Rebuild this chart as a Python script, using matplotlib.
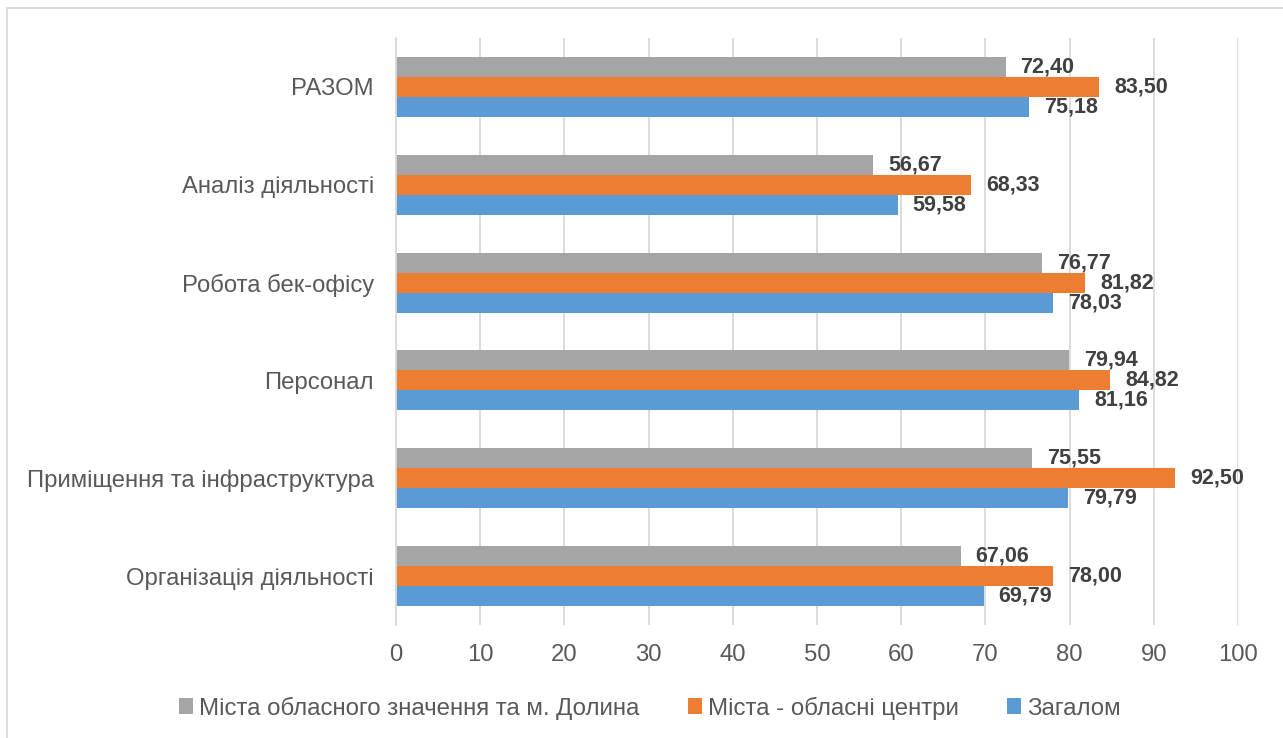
import matplotlib.pyplot as plt
import numpy as np
from matplotlib.patches import Rectangle

categories = ['Організація діяльності', 'Приміщення та інфраструктура', 'Персонал',
              'Робота бек-офісу', 'Аналіз діяльності', 'РАЗОМ']
series_names = ['Міста обласного значення та м. Долина', 'Міста - обласні центри', 'Загалом']
grey_vals = [67.06, 75.55, 79.94, 76.77, 56.67, 72.40]
orange_vals = [78.00, 92.50, 84.82, 81.82, 68.33, 83.50]
blue_vals = [69.79, 79.79, 81.16, 78.03, 59.58, 75.18]
x_ticks = list(range(0, 101, 10))

plt.rcParams['font.family'] = ['Liberation Sans', 'DejaVu Sans']

colors = ['#A5A5A5', '#ED7D31', '#5B9BD5']
fig = plt.figure(figsize=(12.83, 7.38), dpi=100)
ax = fig.add_axes([396 / 1283, 1 - 625 / 738, (1238 - 396) / 1283, (625 - 38) / 738])

y = np.arange(len(categories))
h = 0.204
offsets = [h, 0, -h]
for vals, off, col, name in zip([grey_vals, orange_vals, blue_vals], offsets, colors, series_names):
    bars = ax.barh(y + off, vals, height=h, color=col, label=name, zorder=2)
    for b, v in zip(bars, vals):
        ax.annotate(f'{v:.2f}'.replace('.', ','), (v, b.get_y() + b.get_height() / 2),
                    xytext=(15, 0), textcoords='offset pixels',
                    ha='left', va='center', fontsize=15.5, fontweight='bold', color='#404040')

ax.set_xlim(0, 100)
ax.set_ylim(-0.5, len(categories) - 0.5)
ax.set_xticks(x_ticks)
ax.set_yticks(y)
ax.set_yticklabels(categories)
ax.tick_params(axis='both', length=0, labelsize=17.2, labelcolor='#595959')
ax.tick_params(axis='x', pad=14)
ax.tick_params(axis='y', pad=16)
ax.grid(axis='x', color='#D9D9D9', linewidth=1.3, zorder=0)
for s in ['top', 'right', 'bottom']:
    ax.spines[s].set_visible(False)
ax.spines['left'].set_color('#D9D9D9')
ax.spines['left'].set_linewidth(1.3)

leg = fig.legend(loc='center', bbox_to_anchor=(650 / 1283, 1 - 708 / 738), ncol=3, frameon=False,
                 fontsize=17.3, handlelength=0.6, handleheight=0.6, handletextpad=0.25,
                 columnspacing=2.0)
for t in leg.get_texts():
    t.set_color('#595959')

fig.patches.append(Rectangle((7 / 1283, -0.01), 1.02, 1 - 8 / 738 + 0.01, transform=fig.transFigure,
                             fill=False, edgecolor='#D9D9D9', linewidth=1.3))

fig.savefig('out.png', dpi=100)
